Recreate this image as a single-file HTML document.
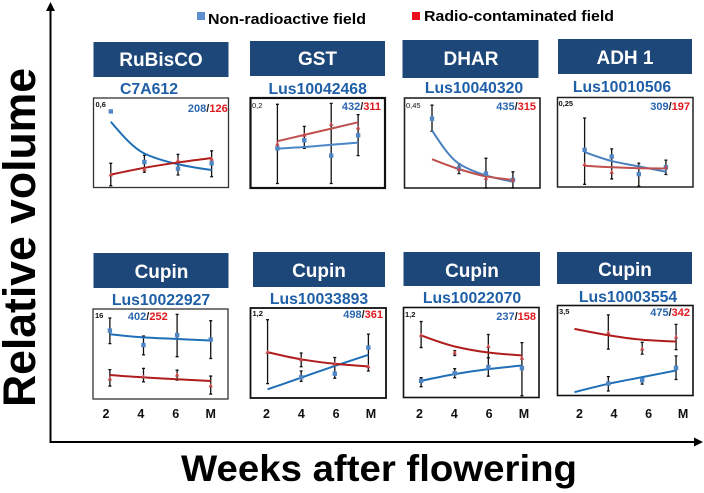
<!DOCTYPE html>
<html lang="en">
<head>
<meta charset="utf-8">
<title>Relative volume of proteins by weeks after flowering</title>
<style>
html,body{margin:0;padding:0;background:#fff;}
svg{display:block;font-family:"Liberation Sans",Arial,sans-serif;}
.hdr{fill:#1d4679;}
.hdr-t{fill:#fff;font-weight:bold;font-size:19px;text-anchor:middle;}
.id{fill:#1f5fa8;font-weight:bold;font-size:15.8px;text-anchor:middle;}
.cnt{font-weight:bold;font-size:11px;text-anchor:end;}
.b{fill:#2a66b0;}.r{fill:#e0191f;}.k{fill:#222;}
.ym{font-size:7.5px;font-weight:bold;fill:#111;}
.tick{font-weight:bold;font-size:12.5px;text-anchor:middle;fill:#111;}
.frame{fill:#fff;stroke:#333;}
</style>
</head>
<body>
<svg id="figure" width="704" height="493" viewBox="0 0 704 493" xmlns="http://www.w3.org/2000/svg">
  <rect width="704" height="493" fill="#fff"/>

  <g>
    <rect x="197" y="12" width="8" height="8" fill="#5b8fd0"/>
    <text x="208" y="24" font-size="14.5" font-weight="bold" textLength="158" lengthAdjust="spacingAndGlyphs">Non-radioactive field</text>
    <rect x="412" y="12" width="8" height="8" fill="#e8101c"/>
    <text x="424" y="21" font-size="14.5" font-weight="bold" textLength="190" lengthAdjust="spacingAndGlyphs">Radio-contaminated field</text>
  </g>

  <g>
    <line x1="50.5" y1="8" x2="50.5" y2="443" stroke="#000" stroke-width="2"/>
    <polygon points="50.5,2 46,11 55,11" fill="#000"/>
    <line x1="49.5" y1="442" x2="698" y2="442" stroke="#000" stroke-width="2"/>
    <polygon points="703,442 694,437.5 694,446.5" fill="#000"/>
    <text transform="translate(35,407) rotate(-90)" font-size="45" font-weight="bold" textLength="339" lengthAdjust="spacingAndGlyphs">Relative volume</text>
    <text x="181" y="481" font-size="37" font-weight="bold" textLength="396" lengthAdjust="spacingAndGlyphs">Weeks after flowering</text>
  </g>

  <!-- Panel 1 -->
  <g>
    <rect class="hdr" x="93.5" y="42" width="135" height="35"/>
    <text class="hdr-t" x="161" y="66">RuBisCO</text>
    <text class="id" x="149" y="94">C7A612</text>
    <g class="plot" data-x0="0.128" data-dx="0.249">
      <rect class="frame" x="93.5" y="98" width="135" height="89.5" stroke-width="1.3"/>
    </g>
    <text class="ym" x="95.5" y="107">0,6</text>
    <text class="cnt" x="227.7" y="112"><tspan class="b">208</tspan><tspan class="k">/</tspan><tspan class="r">126</tspan></text>
  </g>

  <!-- Panel 2 -->
  <g>
    <rect class="hdr" x="250" y="41" width="135" height="35"/>
    <text class="hdr-t" x="317.5" y="65">GST</text>
    <text class="id" x="317.7" y="94">Lus10042468</text>
    <g class="plot" data-x0="0.2" data-dx="0.2">
      <rect class="frame" x="250.5" y="98" width="134.5" height="90" stroke-width="2.2" style="stroke:#111"/>
    </g>
    <text class="ym" x="252" y="108" style="font-weight:normal">0,2</text>
    <text class="cnt" x="381" y="110"><tspan class="b">432</tspan><tspan class="k">/</tspan><tspan class="r">311</tspan></text>
  </g>

  <!-- Panel 3 -->
  <g>
    <rect class="hdr" x="402.5" y="40" width="136" height="38"/>
    <text class="hdr-t" x="471" y="65">DHAR</text>
    <text class="id" x="474" y="93">Lus10040320</text>
    <g class="plot" data-x0="0.203" data-dx="0.199">
      <rect class="frame" x="404.5" y="98" width="135.5" height="90" stroke-width="1.6" style="stroke:#222"/>
    </g>
    <text class="ym" x="406" y="108" style="font-weight:normal">0,45</text>
    <text class="cnt" x="536" y="110"><tspan class="b">435</tspan><tspan class="k">/</tspan><tspan class="r">315</tspan></text>
  </g>

  <!-- Panel 4 -->
  <g>
    <rect class="hdr" x="558" y="39" width="134" height="35"/>
    <text class="hdr-t" x="625" y="64">ADH 1</text>
    <text class="id" x="622" y="92">Lus10010506</text>
    <g class="plot" data-x0="0.2" data-dx="0.2">
      <rect class="frame" x="557.5" y="97.5" width="135.5" height="89.5" stroke-width="1.5" style="stroke:#222"/>
    </g>
    <text class="ym" x="558.5" y="106">0,25</text>
    <text class="cnt" x="690" y="110"><tspan class="b">309</tspan><tspan class="k">/</tspan><tspan class="r">197</tspan></text>
  </g>

  <!-- Panel 5 -->
  <g>
    <rect class="hdr" x="93.5" y="253" width="135" height="35"/>
    <text class="hdr-t" x="161.5" y="278">Cupin</text>
    <text class="id" x="161" y="305">Lus10022927</text>
    <g class="plot" data-x0="0.125" data-dx="0.249" data-tx0="0.096" data-tdx="0.2585">
      <rect class="frame" x="93" y="309" width="135" height="90" stroke-width="1.3"/>
    </g>
    <text class="ym" x="95" y="318">16</text>
    <text class="cnt" x="167.7" y="320"><tspan class="b">402</tspan><tspan class="k">/</tspan><tspan class="r">252</tspan></text>
  </g>

  <!-- Panel 6 -->
  <g>
    <rect class="hdr" x="253" y="252" width="132" height="35"/>
    <text class="hdr-t" x="319" y="277">Cupin</text>
    <text class="id" x="319" y="304">Lus10033893</text>
    <g class="plot" data-x0="0.126" data-dx="0.248" data-tx0="0.118" data-tdx="0.257">
      <rect class="frame" x="250.5" y="308" width="135.5" height="90" stroke-width="1.8" style="stroke:#111"/>
    </g>
    <text class="ym" x="252.5" y="316">1,2</text>
    <text class="cnt" x="383" y="318"><tspan class="b">498</tspan><tspan class="k">/</tspan><tspan class="r">361</tspan></text>
  </g>

  <!-- Panel 7 -->
  <g>
    <rect class="hdr" x="403.5" y="252" width="136.5" height="34"/>
    <text class="hdr-t" x="472" y="277">Cupin</text>
    <text class="id" x="472" y="303">Lus10022070</text>
    <g class="plot" data-x0="0.13" data-dx="0.248" data-tx0="0.118" data-tdx="0.257">
      <rect class="frame" x="403.5" y="307.5" width="135.5" height="90" stroke-width="1.6" style="stroke:#111"/>
    </g>
    <text class="ym" x="405" y="317">1,2</text>
    <text class="cnt" x="536" y="320"><tspan class="b">237</tspan><tspan class="k">/</tspan><tspan class="r">158</tspan></text>
  </g>

  <!-- Panel 8 -->
  <g>
    <rect class="hdr" x="557" y="252" width="135" height="32"/>
    <text class="hdr-t" x="625" y="276">Cupin</text>
    <text class="id" x="628" y="302">Lus10003554</text>
    <g class="plot" data-x0="0.125" data-dx="0.25" data-tx0="0.162" data-tdx="0.255">
      <rect class="frame" x="557.5" y="305.5" width="135.5" height="90" stroke-width="1.6" style="stroke:#111"/>
    </g>
    <text class="ym" x="559" y="314">3,5</text>
    <text class="cnt" x="690" y="316"><tspan class="b">475</tspan><tspan class="k">/</tspan><tspan class="r">342</tspan></text>
  </g>

<script>
// Values are percent of each panel's y-axis maximum. Order: RuBisCO, GST, DHAR, ADH 1, Cupin x4.
const weekLabels = ['2', '4', '6', 'M'];
const blueValues = [
  [85, 28.5, 21, 27], [44, 53, 36, 58.5], [77, 22, 16, 9], [41.5, 34, 14.4, 22],
  [76, 60, 71, 66], [null, 23, 27, 56], [18.5, 27, 33.7, 32.6], [null, 13.3, 17, 30.7]
];
const redValues = [
  [14.4, 20.4, 30.4, 32], [49, 59, 71, 67], [null, 21, 11, 9], [25.5, 16.7, null, 22],
  [22.6, 25, 27, 15], [51, 43, 38, 35], [69.6, 50, 57, 44], [null, 70, 52, 65]
];
const blueFit = [
  [73.5, 38, 26, 19.5], [43.7, 45.5, 48, 50.4], [64, 27, 14, 7], [39, 29, 23, 17],
  [72, 68.5, 66.7, 65], [9.6, 22.6, 35.6, 48], [18.5, 26, 31.5, 35.5], [3.7, 13, 20.4, 27.8]
];
const redFit = [
  [14.4, 22, 28, 33], [52, 59, 66, 73], [32, 21, 13, 9], [23.7, 22, 21, 20.7],
  [26.7, 24, 22, 20], [51, 43, 38, 35], [69, 56.7, 50, 46.7], [74, 67, 62, 60]
];
const blueErrLow = [
  [2, 17, 14, 12], [5, 44, 5, 36], [63, 16, 0, 0], [3, 9, 1, 14],
  [61.5, 49, 47, 45], [null, 18.5, null, null], [12, 22, 23.7, null], [null, 5, 12.6, 17.8]
];
const blueErrHigh = [
  [27, 36, 37, 41], [93, 68.5, 94, 81.5], [92, 27, 33, 18], [77, 42.6, 26.7, 30],
  [90, 70, 94, 87], [null, 30, null, null], [22, 32, 44, null], [null, 21, 19.6, 44]
];
const redErrLow = [
  [null, null, null, null], [null, null, null, null], [null, null, null, null], [null, null, null, null],
  [14.4, 19, 21, 5.5], [16, 34.7, 22, 30], [55.5, 46.7, 44, 2], [null, 51.5, 46, 51]
];
const redErrHigh = [
  [null, null, null, null], [null, null, null, null], [null, null, null, null], [null, null, null, null],
  [32.6, 34, 32, 25.5], [87, 50, 45, 71], [84.4, 52, 70, 61], [null, 89.6, 59, 79]
];

const NS = 'http://www.w3.org/2000/svg';
const plots = Array.from(document.querySelectorAll('.plot'));
const blueTop = ['#1f6fb8', '#4a86c8', '#4a80bd', '#4a80bd', '#1f6fb8', '#1f6fb8', '#1f6fb8', '#1f6fb8'];
const redTop = ['#b01c1c', '#c0504d', '#c0504d', '#c0504d', '#b01c1c', '#b01c1c', '#b01c1c', '#b01c1c'];

function make(tag, attrs) {
  const n = document.createElementNS(NS, tag);
  for (const k in attrs) n.setAttribute(k, attrs[k]);
  return n;
}
function frameOf(g) {
  const r = g.querySelector('rect');
  return {
    x: +r.getAttribute('x'), y: +r.getAttribute('y'),
    w: +r.getAttribute('width'), h: +r.getAttribute('height')
  };
}
function xScale(g, i) {
  const f = frameOf(g);
  return f.x + f.w * (+g.dataset.x0 + i * +g.dataset.dx);
}
function yScale(g, v) {
  const f = frameOf(g);
  return f.y + f.h - f.h * v / 100;
}
// Monotone cubic through the fitted values, so decay curves stay smooth and convex.
function smoothPath(pts) {
  const n = pts.length, s = [], m = [];
  for (let i = 0; i < n - 1; i++) s.push((pts[i + 1][1] - pts[i][1]) / (pts[i + 1][0] - pts[i][0]));
  for (let i = 1; i < n - 1; i++) m[i] = s[i - 1] * s[i] <= 0 ? 0 : 2 * s[i - 1] * s[i] / (s[i - 1] + s[i]);
  m[0] = (3 * s[0] - m[1]) / 2;
  m[n - 1] = (3 * s[n - 2] - m[n - 2]) / 2;
  let d = 'M' + pts[0][0].toFixed(2) + ' ' + pts[0][1].toFixed(2);
  for (let i = 0; i < n - 1; i++) {
    const h = (pts[i + 1][0] - pts[i][0]) / 3;
    d += 'C' + (pts[i][0] + h).toFixed(2) + ' ' + (pts[i][1] + m[i] * h).toFixed(2) + ' ' +
      (pts[i + 1][0] - h).toFixed(2) + ' ' + (pts[i + 1][1] - m[i + 1] * h).toFixed(2) + ' ' +
      pts[i + 1][0].toFixed(2) + ' ' + pts[i + 1][1].toFixed(2);
  }
  return d;
}
function drawErrors(g, low, high) {
  low.forEach(function (lo, i) {
    const hi = high[i];
    if (lo === null || hi === null) return;
    const x = xScale(g, i), y1 = yScale(g, lo), y2 = yScale(g, hi);
    const d = 'M' + x + ' ' + y1 + 'V' + y2 + 'M' + (x - 1.5) + ' ' + y1 + 'h3M' + (x - 1.5) + ' ' + y2 + 'h3';
    const e = make('path', { d: d, stroke: '#111', 'stroke-width': 1.3, fill: 'none' });
    
    
    g.appendChild(e);
  });
}
function drawFit(g, fit, color) {
  const pts = fit.map(function (v, i) { return [xScale(g, i), yScale(g, v)]; });
  const line = make('path', { d: smoothPath(pts), stroke: color, 'stroke-width': 2, fill: 'none' });
  
  
  g.appendChild(line);
}
function drawBlue(g, vals) {
  vals.forEach(function (v, i) {
    if (v === null) return;
    const x = xScale(g, i), y = yScale(g, v);
    const m = make('rect', { x: x - 2.2, y: y - 2.2, width: 4.4, height: 4.4, fill: '#4f86c6' });
    
    
    g.appendChild(m);
  });
}
function drawRed(g, vals) {
  vals.forEach(function (v, i) {
    if (v === null) return;
    const x = xScale(g, i), y = yScale(g, v);
    const m = make('polygon', { points: x + ',' + (y - 2.4) + ' ' + (x - 2.2) + ',' + (y + 1.8) + ' ' + (x + 2.2) + ',' + (y + 1.8), fill: '#c8484a' });
    
    
    g.appendChild(m);
  });
}
plots.forEach(function (g, p) {
  drawErrors(g, blueErrLow[p], blueErrHigh[p]);
  drawErrors(g, redErrLow[p], redErrHigh[p]);
  drawFit(g, blueFit[p], blueTop[p]);
  drawFit(g, redFit[p], redTop[p]);
  drawBlue(g, blueValues[p]);
  drawRed(g, redValues[p]);
  if (g.dataset.tx0) {
    const f = frameOf(g);
    weekLabels.forEach(function (label, i) {
      const t = make('text', { class: 'tick', x: f.x + f.w * (+g.dataset.tx0 + i * +g.dataset.tdx), y: 418 });
      
      
      t.textContent = label;
      g.parentNode.appendChild(t);
    });
  }
});
</script>
</svg>
</body>
</html>
